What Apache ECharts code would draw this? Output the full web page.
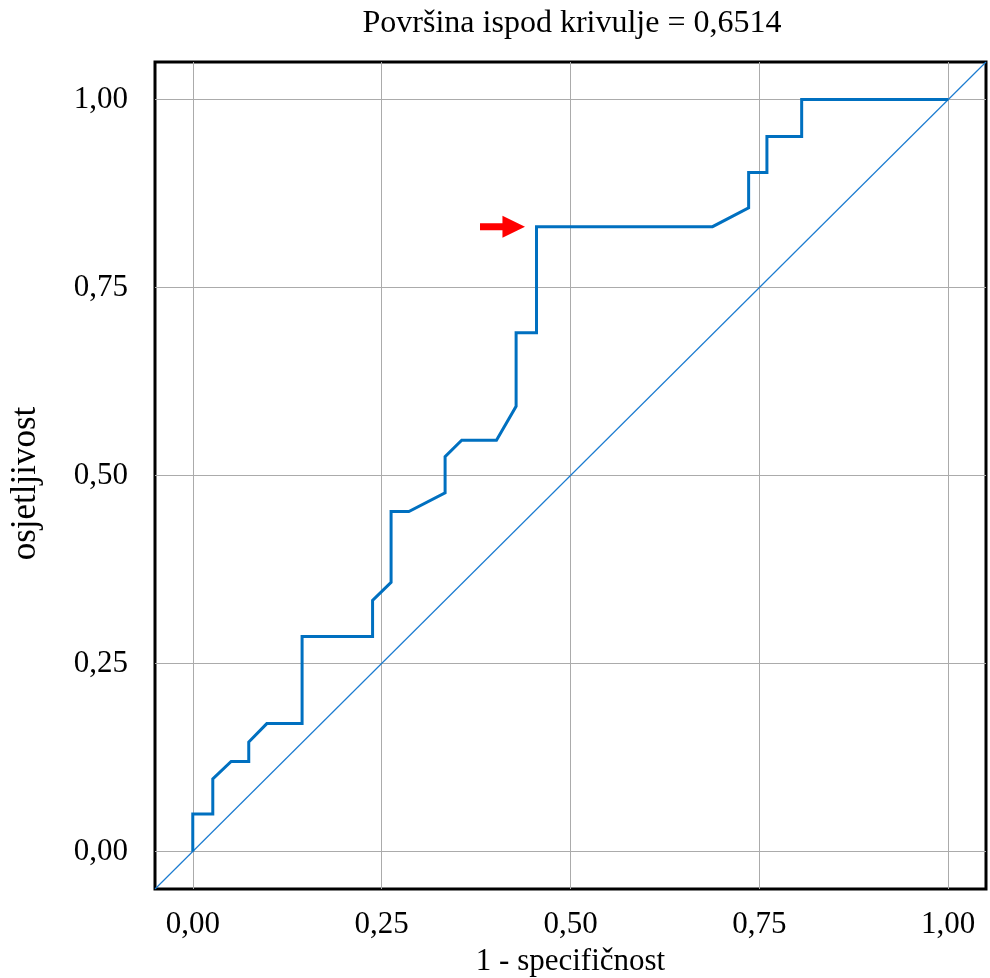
<!DOCTYPE html>
<html>
<head>
<meta charset="utf-8">
<script src="https://cdn.jsdelivr.net/npm/echarts@6/dist/echarts.min.js"></script>
<style>html,body{margin:0;padding:0;background:#fff}#c{width:990px;height:978px}</style>
</head>
<body>
<div id="c"></div>
<script>
// ---- data ----
const titleText = 'Površina ispod krivulje = 0,6514';
const xName = '1 - specifičnost';
const yName = 'osjetljivost';
const tickValues = [0, 0.25, 0.5, 0.75, 1];
const axisRange = [-0.05, 1.05];
// ROC curve: 1 - specificity (x) and sensitivity (y)
const fpr = [0, 0, 0.0265, 0.0265, 0.0508, 0.0741, 0.0741, 0.098, 0.1447, 0.1447, 0.238, 0.238, 0.2625, 0.2625, 0.286, 0.334, 0.334, 0.356, 0.402, 0.428, 0.428, 0.455, 0.455, 0.688, 0.7358, 0.7358, 0.760, 0.760, 0.806, 0.806, 1.0];
const tpr = [0, 0.0497, 0.0497, 0.0963, 0.1197, 0.1197, 0.1455, 0.170, 0.170, 0.286, 0.286, 0.334, 0.358, 0.452, 0.452, 0.477, 0.525, 0.547, 0.547, 0.592, 0.690, 0.690, 0.831, 0.831, 0.856, 0.903, 0.903, 0.951, 0.951, 1.0, 1.0];
// reference diagonal (chance line)
const refX = [-0.05, 1.05];
const refY = [-0.05, 1.05];
// highlighted point (red arrow)
const arrowPoint = [0.455, 0.831];

const fmt = v => v.toFixed(2).replace('.', ',');
const font = "'Liberation Serif','Times New Roman',serif";
const gridColor = '#ababab';

const chart = echarts.init(document.getElementById('c'), null, {renderer: 'canvas'});
const curveData = fpr.map((x, i) => [x, tpr[i]]);
const refData = refX.map((x, i) => [x, refY[i]]);

const baseX = {
  type: 'value', min: axisRange[0], max: axisRange[1],
  axisLine: {show: false}
};
const baseY = {
  type: 'value', min: axisRange[0], max: axisRange[1],
  axisLine: {show: false}
};

chart.setOption({
  animation: false,
  backgroundColor: '#fff',
  title: {
    text: titleText, left: 567, top: 3, textAlign: 'center',
    textStyle: {fontFamily: font, fontSize: 32, fontWeight: 'normal', color: '#000'}
  },
  grid: {
    left: 155, top: 62, width: 831, height: 827,
    outerBoundsMode: 'none', containLabel: false,
    show: true, borderColor: '#000', borderWidth: 3, backgroundColor: 'transparent'
  },
  xAxis: [
    Object.assign({}, baseX, {
      position: 'bottom',
      name: xName, nameLocation: 'middle', nameGap: 57,
      nameTextStyle: {fontFamily: font, fontSize: 31, color: '#000'},
      axisTick: {show: true, inside: false, length: 14, customValues: tickValues, lineStyle: {color: gridColor, width: 1}},
      axisLabel: {show: true, customValues: tickValues, formatter: fmt, margin: 20,
        fontFamily: font, fontSize: 31, color: '#000'},
      splitLine: {show: true, lineStyle: {color: gridColor, width: 1}}
    }),
    Object.assign({}, baseX, {
      position: 'top',
      axisTick: {show: true, inside: false, length: 15, customValues: tickValues, lineStyle: {color: gridColor, width: 1}},
      axisLabel: {show: false},
      splitLine: {show: false}
    })
  ],
  yAxis: [
    Object.assign({}, baseY, {
      position: 'left',
      name: yName, nameLocation: 'middle', nameGap: 112,
      nameTextStyle: {fontFamily: font, fontSize: 35, color: '#000', padding: [0, 16, 0, 0]},
      axisTick: {show: true, inside: false, length: 14, customValues: tickValues, lineStyle: {color: gridColor, width: 1}},
      axisLabel: {show: true, customValues: tickValues, formatter: fmt, margin: 27,
        fontFamily: font, fontSize: 31, color: '#000'},
      splitLine: {show: true, lineStyle: {color: gridColor, width: 1}}
    }),
    Object.assign({}, baseY, {
      position: 'right',
      axisTick: {show: true, inside: false, length: 6, customValues: tickValues, lineStyle: {color: gridColor, width: 1}},
      axisLabel: {show: false},
      splitLine: {show: false}
    })
  ],
  series: [
    {
      type: 'line', data: refData, xAxisIndex: 0, yAxisIndex: 0,
      symbol: 'none', silent: true, z: 3,
      lineStyle: {color: '#1c7cd0', width: 1.2}
    },
    {
      type: 'line', data: curveData, xAxisIndex: 0, yAxisIndex: 0,
      symbol: 'none', silent: true, z: 4,
      lineStyle: {color: '#0070C0', width: 3, join: 'miter'},
      markPoint: {
        silent: true,
        symbol: 'path://M0,7.5L22.6,7.5L22.6,0L45.3,11L22.6,22L22.6,14.5L0,14.5Z',
        symbolSize: [45, 22],
        symbolKeepAspect: false,
        symbolOffset: [-34, 0],
        itemStyle: {color: '#ff0000'},
        label: {show: false},
        data: [{coord: arrowPoint}]
      }
    }
  ]
});
</script>
</body>
</html>
